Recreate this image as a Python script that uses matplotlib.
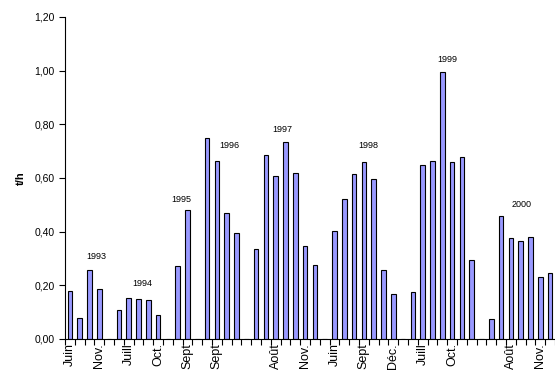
import numpy as np
import matplotlib
matplotlib.use("Agg")
import matplotlib.pyplot as plt
from matplotlib.ticker import FuncFormatter, FixedLocator

plt.rcParams['font.family'] = ['Liberation Sans', 'DejaVu Sans']

# one entry per category slot; None = empty slot between years
values = [0.18, 0.077, 0.257, 0.185, None,
          0.107, 0.153, 0.148, 0.144, 0.088, None,
          0.273, 0.481, None,
          0.748, 0.663, 0.468, 0.394, None,
          0.335, 0.685, 0.609, 0.734, 0.618, 0.347, 0.276, None,
          0.403, 0.52, 0.614, 0.661, 0.596, 0.256, 0.169, None,
          0.174, 0.65, 0.663, 0.994, 0.66, 0.677, 0.293, None,
          0.073, 0.458, 0.375, 0.364, 0.38, 0.23, 0.245]

# labels shown every third slot (Excel interval)
shown_labels = ["Juin", "Nov.", "Juill", "Oct.", "Sept", "Sept", "",
                "Août", "Nov.", "Juin", "Sept", "Déc.", "Juill", "Oct.",
                "", "Août", "Nov."]

years = ["1993", "1994", "1995", "1996", "1997", "1998", "1999", "2000"]
year_x = [2.66, 7.4, 11.4, 16.3, 21.7, 30.5, 38.5, 46.1]
year_y = [0.307, 0.206, 0.52, 0.722, 0.779, 0.722, 1.042, 0.503]

heights = np.array([np.nan if v is None else v for v in values])
x = np.arange(len(values))

fig = plt.figure(figsize=(5.55, 3.76), dpi=100)
ax = fig.add_axes([65 / 555, 37 / 376, 490 / 555, 322 / 376])

ax.bar(x, np.nan_to_num(heights), width=0.48, color="#9999ff",
       edgecolor="black", linewidth=0.8)

for yr, xx, yy in zip(years, year_x, year_y):
    ax.text(xx, yy, yr, ha="center", va="center", fontsize=6.5)

ax.set_xlim(-0.5, len(values) - 0.5)
ax.set_ylim(0, 1.2)
ax.set_yticks(np.arange(0, 1.21, 0.2))
ax.yaxis.set_major_formatter(FuncFormatter(lambda v, p: f"{v:.2f}".replace(".", ",")))
ax.tick_params(axis="y", labelsize=7.5, length=4, width=0.8, direction="out")

major_pos = np.arange(0, len(values), 3)
ax.xaxis.set_major_locator(FixedLocator(major_pos))
ax.set_xticklabels(shown_labels, rotation=90, fontsize=9)
ax.xaxis.set_minor_locator(FixedLocator(np.arange(-0.5, len(values), 1)))
ax.tick_params(axis="x", which="major", length=0, pad=3)
ax.tick_params(axis="x", which="minor", length=4, width=0.8, direction="out")

ax.spines["top"].set_visible(False)
ax.spines["right"].set_visible(False)
ax.spines["left"].set_linewidth(0.8)
ax.spines["bottom"].set_linewidth(0.8)

ax.set_ylabel("t/h", fontsize=8, fontweight="bold", labelpad=6)

fig.savefig("out.png", dpi=100)
